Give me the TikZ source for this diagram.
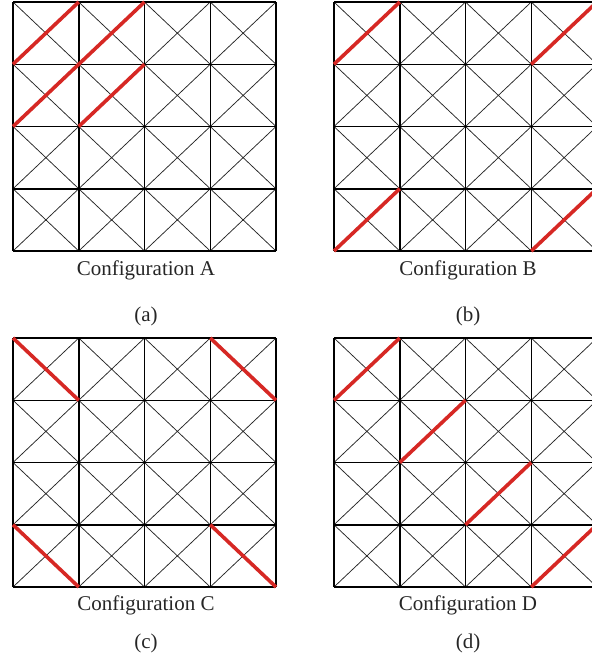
\documentclass[tikz,border=0pt]{standalone}
\usepackage{fontspec}
\setmainfont{Liberation Serif}
\definecolor{cfgred}{RGB}{214,40,36}
\tikzset{
  gridline/.style={line width=1.5pt,black},
  diagline/.style={line width=0.75pt,black!85},
  redline/.style={line width=3.6pt,draw=cfgred},
  caption/.style={font=\fontsize{21}{25}\selectfont,text=black!85,inner sep=0pt}
}
\def\cw{65.75}
\def\ch{62.25}
\newcommand\cfgpanel[2]{%
  \begin{scope}[shift={(#1,#2)}]
    \foreach \i in {0,...,3}{\foreach \j in {0,...,3}{
      \draw[diagline] (\i*\cw,\j*\ch) -- ++(\cw,\ch);
      \draw[diagline] (\i*\cw+\cw,\j*\ch) -- ++(-\cw,\ch);}}
    \foreach \i in {0,...,4}{
      \draw[gridline] (\i*\cw,0) -- (\i*\cw,4*\ch);
      \draw[gridline] (0,\i*\ch) -- (4*\cw,\i*\ch);}
  \end{scope}}
% red "/" diagonal in cell (i,j) of panel with origin (x,y)
\newcommand\redslash[4]{\draw[redline] (#1+#3*\cw,#2+#4*\ch+\ch) -- (#1+#3*\cw+\cw,#2+#4*\ch);}
\newcommand\redback[4]{\draw[redline] (#1+#3*\cw,#2+#4*\ch) -- (#1+#3*\cw+\cw,#2+#4*\ch+\ch);}
\begin{document}
\begin{tikzpicture}[x=1pt,y=-1pt]
  \useasboundingbox (0,0) rectangle (592,657);
  \clip (0,0) rectangle (592,657);
  % panels
  \cfgpanel{13}{2}
  \cfgpanel{334}{2}
  \cfgpanel{13}{338}
  \cfgpanel{334}{338}
  % Configuration A
  \foreach \i/\j in {0/0,0/1,1/0,1/1}{\redslash{13}{2}{\i}{\j}}
  % Configuration B
  \foreach \i/\j in {0/0,3/0,0/3,3/3}{\redslash{334}{2}{\i}{\j}}
  % Configuration C
  \foreach \i/\j in {0/0,3/0,0/3,3/3}{\redback{13}{338}{\i}{\j}}
  % Configuration D
  \foreach \i/\j in {0/0,1/1,2/2,3/3}{\redslash{334}{338}{\i}{\j}}
  % captions
  \node[caption] (capA) at (146,270) {Configuration A};
  \node[caption] (capB) at (468,270) {Configuration B};
  \node[caption] (capC) at (146,605) {Configuration C};
  \node[caption] (capD) at (468,605) {Configuration D};
  \node[caption] (suba) at (146,316) {(a)};
  \node[caption] (subb) at (468,316) {(b)};
  \node[caption] (subc) at (146,643) {(c)};
  \node[caption] (subd) at (468,643) {(d)};
\end{tikzpicture}
\end{document}
